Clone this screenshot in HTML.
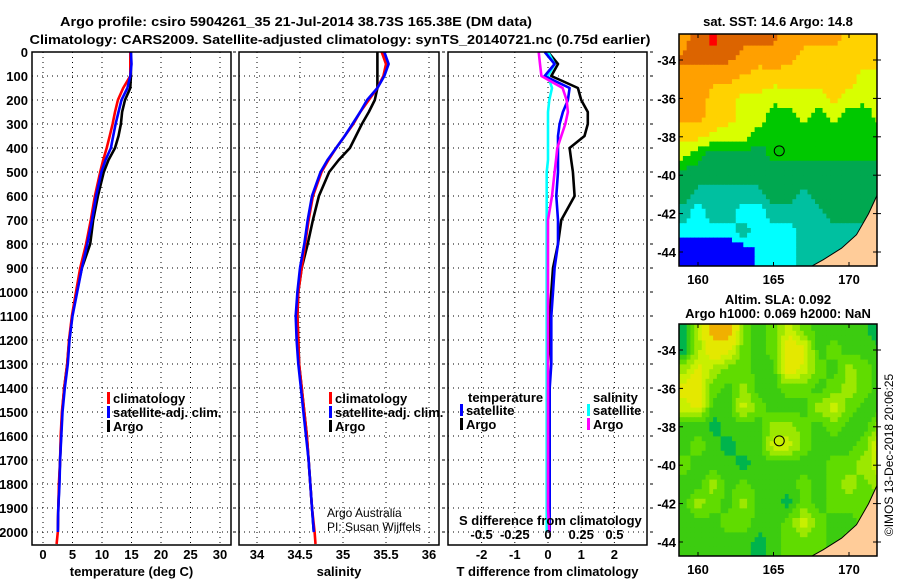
<!DOCTYPE html>
<html><head><meta charset="utf-8"><style>
body{margin:0;background:#fff;}
svg{display:block;font-family:"Liberation Sans",sans-serif;}
.b{font-weight:bold;font-size:13px;}
</style></head><body>
<svg id="c" width="900" height="580" viewBox="0 0 900 580" xmlns="http://www.w3.org/2000/svg">
<text x="296" y="26" class="b" font-size="14" text-anchor="middle" textLength="472" lengthAdjust="spacingAndGlyphs">Argo profile: csiro 5904261_35 21-Jul-2014 38.73S 165.38E (DM data)</text>
<text x="340" y="44" class="b" font-size="14" text-anchor="middle" textLength="621" lengthAdjust="spacingAndGlyphs">Climatology: CARS2009. Satellite-adjusted climatology: synTS_20140721.nc (0.75d earlier)</text>
</svg>
<script>
// ---- data ----
const depths = [0,50,100,150,200,250,300,350,400,450,500,600,700,800,900,1000,1100,1200,1300,1400,1500,1600,1700,1800,1900,2000,2050];
const tempClim = [14.8,14.8,14.8,13.6,12.7,12.2,11.8,11.3,10.8,10.2,9.7,8.8,8.1,7.3,6.3,5.6,4.9,4.4,4.1,3.6,3.2,3.0,2.9,2.7,2.6,2.5,2.3];
const tempSat = [14.9,15.0,14.8,14.3,13.3,12.8,12.3,11.9,11.5,10.6,9.9,9.0,8.3,7.5,6.6,5.8,5.0,4.5,4.2,3.7,3.3,3.1,2.9,2.8,2.6,2.5,null];
const tempArgo = [14.9,14.9,14.9,14.8,13.9,13.4,13.2,12.8,12.2,11.1,10.3,9.3,8.5,8.0,6.6,5.7,4.95,4.45,4.1,3.6,3.25,3.05,2.9,2.75,2.6,2.5,null];
const salClim = [35.45,35.5,35.47,35.4,35.3,35.2,35.12,35.02,34.92,34.83,34.75,34.65,34.6,34.56,34.52,34.48,34.47,34.48,34.49,34.52,34.55,34.58,34.6,34.62,34.64,34.67,34.68];
const salSat = [35.48,35.53,35.48,35.4,35.28,35.2,35.11,35.02,34.92,34.82,34.74,34.64,34.59,34.55,34.5,34.47,34.45,34.46,34.48,34.51,34.54,34.57,34.6,34.62,34.64,34.66,null];
const salArgo = [35.4,35.4,35.4,35.4,35.37,35.3,35.22,35.15,35.08,34.95,34.84,34.72,34.65,34.59,34.52,34.48,34.47,34.48,34.49,34.52,34.55,34.58,34.6,34.62,34.64,34.66,null];
const dTArgo = [0.0,0.3,0.1,0.9,1.0,1.2,1.2,1.1,0.65,0.7,0.75,0.8,0.4,0.3,0.15,0.1,0.05,0.05,0.0,0.0,0.0,0.0,0.0,0.0,0.0,0.0,null];
const dTSat = [-0.1,0.2,-0.1,0.65,0.6,0.45,0.35,0.3,0.3,0.3,0.3,0.25,0.3,0.3,0.2,0.15,0.1,0.1,0.1,0.05,0.05,0.05,0.05,0.05,0.05,0.05,null];
const dSSat = [0.0,0.05,0.0,0.03,0.01,0.0,0.0,0.0,0.0,0.0,-0.01,-0.01,-0.01,-0.01,-0.01,-0.01,-0.01,-0.01,-0.01,-0.01,-0.01,-0.01,-0.01,-0.01,-0.01,-0.01,null];
const dSArgo = [-0.07,-0.06,-0.05,0.11,0.14,0.15,0.13,0.1,0.07,0.06,0.05,0.03,0.0,0.0,0.0,0.0,0.0,0.0,0.0,0.0,0.0,0.0,0.0,0.0,0.0,0.01,null];
const depthTicks = [0,100,200,300,400,500,600,700,800,900,1000,1100,1200,1300,1400,1500,1600,1700,1800,1900,2000];
const tempTicks = [0,5,10,15,20,25,30];
const salTicks = [34,34.5,35,35.5,36];
const salTickLabels = ["34","34.5","35","35.5","36"];
const dTTicks = [-2,-1,0,1,2];
const dSTicks = [-0.5,-0.25,0,0.25,0.5];
const dSTickLabels = ["-0.5","-0.25","0","0.25","0.5"];
const mapLats = [-33,-34,-35,-36,-37,-38,-39,-40,-41,-42,-43,-44];
const mapLons = [159,160,161,162,163,164,165,166,167,168,169,170,171,172];
const latTicks = [-34,-36,-38,-40,-42,-44];
const lonTicks = [160,165,170];
const sstGrid = [
[16.0,16.5,17.2,16.5,16.3,16.3,16.3,15.8,15.6,15.6,15.6,15.4,15.2,15.2],
[16.3,16.3,16.3,16.3,16.0,15.6,15.8,15.6,15.3,15.3,15.3,15.2,15.2,15.2],
[16.0,15.8,15.6,15.6,15.3,15.3,15.2,15.2,15.3,15.2,15.2,15.2,15.0,15.0],
[15.8,15.8,15.3,15.2,15.0,15.0,14.9,15.0,14.9,15.0,15.2,15.0,14.9,14.9],
[15.6,15.6,15.3,15.2,15.0,15.0,14.6,14.6,14.9,14.6,14.9,14.6,14.6,14.9],
[15.2,15.2,15.0,14.9,15.0,14.6,14.6,14.6,14.6,14.6,14.6,14.6,14.6,14.6],
[14.9,14.6,14.3,14.3,14.3,14.3,14.6,14.6,14.6,14.6,14.6,14.6,14.6,14.6],
[14.3,14.3,14.3,14.3,14.3,14.3,14.3,14.3,14.3,14.3,14.3,14.3,14.3,14.3],
[14.3,13.8,13.8,13.8,13.8,13.8,14.3,14.3,13.8,14.3,14.3,14.3,14.3,14.3],
[13.8,13.2,13.8,13.8,13.2,13.2,13.8,13.8,13.8,13.8,14.3,14.3,14.3,14.3],
[13.2,13.2,13.2,13.2,13.8,13.2,13.2,13.2,13.8,13.8,13.8,13.8,13.8,13.8],
[12.5,12.5,12.5,12.5,12.5,13.2,13.2,13.2,13.8,13.8,13.8,13.8,13.8,13.8]];
const slaGrid = [
[0.02,0.08,0.18,0.20,0.06,0.04,0.06,0.10,0.06,0.04,0.04,0.04,0.04,0.00],
[0.00,0.08,0.14,0.12,0.06,0.04,0.06,0.14,0.12,0.04,0.06,0.04,0.04,0.04],
[0.08,0.12,0.08,0.06,0.06,0.04,0.04,0.14,0.10,0.06,0.04,0.08,0.06,0.04],
[0.12,0.12,0.06,0.04,0.08,0.04,0.04,0.06,0.06,0.04,0.06,0.08,0.06,0.04],
[0.10,0.12,0.04,0.04,0.10,0.06,0.04,0.04,0.04,0.08,0.10,0.06,0.04,0.04],
[0.04,0.04,0.02,0.04,0.04,0.04,0.08,0.08,0.06,0.04,0.06,0.04,0.04,0.08],
[0.04,0.06,0.04,0.02,0.04,0.04,0.10,0.10,0.06,0.04,0.04,0.04,0.06,0.12],
[0.06,0.04,0.04,0.04,0.02,0.04,0.04,0.04,0.04,0.04,0.06,0.06,0.08,0.10],
[0.04,0.04,0.08,0.04,0.06,0.04,0.04,0.04,0.06,0.04,0.06,0.08,0.06,0.08],
[0.04,0.08,0.06,0.04,0.08,0.04,0.04,0.02,0.06,0.04,0.06,0.06,0.06,0.06],
[0.04,0.04,0.04,0.06,0.06,0.04,0.04,0.06,0.10,0.06,0.04,0.04,0.06,0.06],
[0.04,0.04,0.04,0.04,0.04,0.02,0.04,0.06,0.06,0.06,0.04,0.06,0.06,0.06]];
const landLons = [172,171.3,170.5,169.5,168.3,167.5,172];
const landLats = [-40.8,-42.0,-43.1,-43.8,-44.4,-44.75,-44.75];
const floatLon = 165.38, floatLat = -38.73;

// ---- drawing ----
const NS="http://www.w3.org/2000/svg";
const svg=document.getElementById('c');
function mk(tag,attrs,parent){const e=document.createElementNS(NS,tag);for(const k in attrs)e.setAttribute(k,attrs[k]);(parent||svg).appendChild(e);return e;}
const top0=52, bot0=545;
const yD=d=>top0+d*0.24;
const panels=[
 {x0:32,x1:231,fx:v=>43+v*5.9,ticks:tempTicks,labels:tempTicks.map(String),title:"temperature (deg C)",name:"temperature-panel"},
 {x0:239,x1:439,fx:v=>257+(v-34)*86,ticks:salTicks,labels:salTickLabels,title:"salinity",name:"salinity-panel"},
 {x0:448,x1:647,fx:v=>548+v*33.2,ticks:dTTicks,labels:dTTicks.map(String),title:"T difference from climatology",name:"difference-panel"}];
panels.forEach((p,pi)=>{
 const g=mk('g',{});
 
 
 depthTicks.forEach(d=>{if(d>0)mk('line',{x1:p.x0,x2:p.x1,y1:yD(d),y2:yD(d),stroke:'#000','stroke-width':1,'stroke-dasharray':'1,4'},g);});
 p.ticks.forEach((t,i)=>{const x=p.fx(t);mk('line',{x1:x,x2:x,y1:top0,y2:bot0,stroke:'#000','stroke-width':1,'stroke-dasharray':'1,4'},g);
  const tl=mk('text',{x:x,y:559,'text-anchor':'middle',class:'b'},g);tl.textContent=p.labels[i];
  
  });
 const at=mk('text',{x:(p.x0+p.x1)/2,y:576,'text-anchor':'middle',class:'b'},g);at.textContent=p.title;
 
 
 if(pi>0){depthTicks.forEach(d=>{mk('line',{x1:p.x0-6,x2:p.x0-3,y1:yD(d),y2:yD(d),stroke:'#000'},g);});}
 if(pi==2){depthTicks.forEach(d=>{mk('line',{x1:p.x1+3,x2:p.x1+6,y1:yD(d),y2:yD(d),stroke:'#000'},g);});}
 p.g=g;
});
depthTicks.forEach(d=>{const t=mk('text',{x:28,y:yD(d)+5,'text-anchor':'end',class:'b'});t.textContent=d;
 
 });
function line(vals,fx,color,name){
 let pts=[];depths.forEach((d,i)=>{if(vals[i]!==null)pts.push(fx(vals[i]).toFixed(1)+','+yD(d).toFixed(1));});
 const pl=mk('polyline',{points:pts.join(' '),fill:'none',stroke:color,'stroke-width':2.6,'stroke-linejoin':'round'});
 
 
}
const P=panels;
line(tempArgo,P[0].fx,'#000','temp-argo-line');
line(tempClim,P[0].fx,'#f00','temp-climatology-line');
line(tempSat,P[0].fx,'#00f','temp-satellite-line');
line(salArgo,P[1].fx,'#000','sal-argo-line');
line(salClim,P[1].fx,'#f00','sal-climatology-line');
line(salSat,P[1].fx,'#00f','sal-satellite-line');
const fS=v=>P[2].fx(v*4);
line(dTArgo,P[2].fx,'#000','dT-argo-line');
line(dSSat,fS,'#0ff','dS-satellite-line');
line(dTSat,P[2].fx,'#00f','dT-satellite-line');
line(dSArgo,fS,'#f0f','dS-argo-line');
P.forEach(p=>{const r=mk('rect',{x:p.x0,y:top0,width:p.x1-p.x0,height:bot0-top0,fill:'none',stroke:'#000','stroke-width':1.5});
 
 });
// legends
function leg(x,y,color,label,name){mk('rect',{x:x,y:y-11,width:3,height:12,fill:color});const t=mk('text',{x:x+6,y:y,class:'b'});t.textContent=label;
 
 }
leg(107,403,'#f00','climatology','legend-climatology');
leg(107,417,'#00f','satellite-adj. clim.','legend-satellite-adj');
leg(107,431,'#000','Argo','legend-argo');
leg(329,403,'#f00','climatology','legend-climatology-sal');
leg(329,417,'#00f','satellite-adj. clim.','legend-satellite-adj-sal');
leg(329,431,'#000','Argo','legend-argo-sal');
let t=mk('text',{x:468,y:402,class:'b'});t.textContent='temperature';


t=mk('text',{x:593,y:402,class:'b'});t.textContent='salinity';


leg(460,415,'#00f','satellite','legend-t-satellite');
leg(460,429,'#000','Argo','legend-t-argo');
leg(587,415,'#0ff','satellite','legend-s-satellite');
leg(587,429,'#f0f','Argo','legend-s-argo');
t=mk('text',{x:459,y:525,class:'b'});t.textContent='S difference from climatology';


dSTicks.forEach((v,i)=>{const tt=mk('text',{x:fS(v),y:539,'text-anchor':'middle',class:'b'});tt.textContent=dSTickLabels[i];
 
 });
t=mk('text',{x:327,y:517,'font-size':12});t.textContent='Argo Australia';


t=mk('text',{x:327,y:531,'font-size':12});t.textContent='PI: Susan Wijffels';


// maps
const mx=lon=>698+(lon-160)*15.1;
function sstColor(v){if(v>=17)return'#ff0000';if(v>=16.2)return'#dc6400';if(v>=15.5)return'#ffa000';if(v>=15.1)return'#ffd200';if(v>=14.8)return'#d8ff00';if(v>=14.5)return'#00c800';if(v>=14.0)return'#00a850';if(v>=13.5)return'#00c0a0';if(v>=13)return'#00ffff';return'#0000ff';}
function slaColor(v){if(v<0.03)return'#00b44c';if(v<0.05)return'#3ccc10';if(v<0.07)return'#60dc00';if(v<0.09)return'#9ce800';if(v<0.11)return'#c8f000';if(v<0.16)return'#e4e800';return'#f0b000';}
function sample(grid,lon,lat){
 let c=lon-159, r=-33-lat;
 c=Math.max(0,Math.min(13,c)); r=Math.max(0,Math.min(11,r));
 const c0=Math.min(12,Math.floor(c)), r0=Math.min(10,Math.floor(r)), fc=c-c0, fr=r-r0;
 return grid[r0][c0]*(1-fc)*(1-fr)+grid[r0][c0+1]*fc*(1-fr)+grid[r0+1][c0]*(1-fc)*fr+grid[r0+1][c0+1]*fc*fr;
}
function map(y0,grid,colf,name,title1,title2){
 const my=lat=>y0+26+(-34-lat)*19.2;
 const g=mk('g',{});
 
 
 const clip=mk('clipPath',{id:name+'-clip'},g);
 mk('rect',{x:679,y:y0,width:198,height:232},clip);
 const cg=mk('g',{'clip-path':'url(#'+name+'-clip)'},g);
 const step=0.25;
 for(let lat=-32.5;lat>-45;lat-=step){for(let lon=158.5;lon<172.5;lon+=step){
  const v=sample(grid,lon+step/2,lat-step/2);
  mk('rect',{x:mx(lon).toFixed(2),y:my(lat).toFixed(2),width:(step*15.1+0.6).toFixed(2),height:(step*19.2+0.6).toFixed(2),fill:colf(v)},cg);}}
 const lp=landLons.map((lon,i)=>mx(lon).toFixed(1)+','+my(landLats[i]).toFixed(1)).join(' ');
 const land=mk('polygon',{points:lp,fill:'#ffcc99',stroke:'#000','stroke-width':1},cg);
 
 
 const mk1=mk('circle',{cx:mx(floatLon),cy:my(floatLat),r:5,fill:'none',stroke:'#000','stroke-width':1},g);
 
 
 mk('rect',{x:679,y:y0,width:198,height:232,fill:'none',stroke:'#000','stroke-width':1.5},g);
 latTicks.forEach(l=>{mk('line',{x1:679,x2:683,y1:my(l),y2:my(l),stroke:'#000'},g);mk('line',{x1:873,x2:881,y1:my(l),y2:my(l),stroke:'#000'},g);
  const tt=mk('text',{x:676,y:my(l)+5,'text-anchor':'end',class:'b'},g);tt.textContent=l;
  
  });
 lonTicks.forEach(l=>{mk('line',{x1:mx(l),x2:mx(l),y1:y0,y2:y0+4,stroke:'#000'},g);mk('line',{x1:mx(l),x2:mx(l),y1:y0+228,y2:y0+232,stroke:'#000'},g);
  const tt=mk('text',{x:mx(l),y:y0+250,'text-anchor':'middle',class:'b'},g);tt.textContent=l;
  
  });
 const a=mk('text',{x:778,y:title2?y0-20:y0-8,'text-anchor':'middle',class:'b','font-size':12},g);a.textContent=title1;
 
 
 if(title2){const b=mk('text',{x:778,y:y0-6,'text-anchor':'middle',class:'b','font-size':12},g);b.textContent=title2;
  
  }
}
map(34,sstGrid,sstColor,'sst-map','sat. SST: 14.6 Argo: 14.8',null);
map(324,slaGrid,slaColor,'sla-map','Altim. SLA: 0.092','Argo h1000: 0.069 h2000: NaN');
t=mk('text',{x:893,y:455,'text-anchor':'middle','font-size':12,transform:'rotate(-90 893 455)'});t.textContent='©IMOS 13-Dec-2018 20:06:25';


</script>
</body></html>
